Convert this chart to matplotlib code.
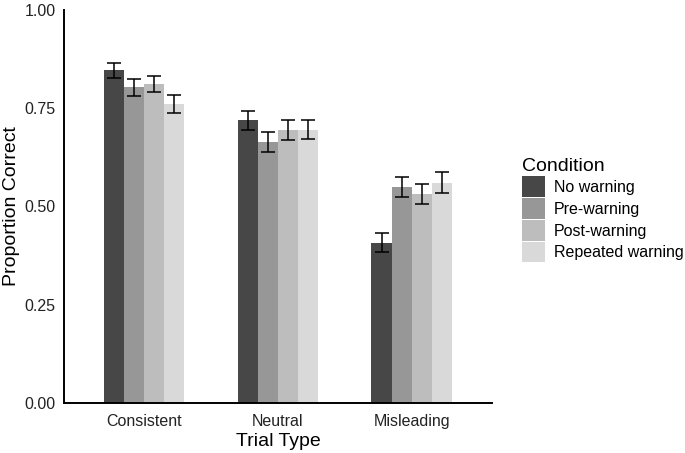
import numpy as np
import matplotlib
matplotlib.use('Agg')
import matplotlib.pyplot as plt
from matplotlib.patches import Patch

plt.rcParams['font.family'] = ['Liberation Sans', 'DejaVu Sans']

# データ
trial_types = ['Consistent', 'Neutral', 'Misleading']
conditions = ['No warning', 'Pre-warning', 'Post-warning', 'Repeated warning']
colors = ['#474747', '#979797', '#bdbdbd', '#d9d9d9']

# 各条件の平均 (Consistent, Neutral, Misleading)
means = {
    'No warning':       [0.846, 0.719, 0.408],
    'Pre-warning':      [0.803, 0.664, 0.549],
    'Post-warning':     [0.812, 0.695, 0.532],
    'Repeated warning': [0.761, 0.695, 0.561],
}
# 標準誤差
errors = {
    'No warning':       [0.019, 0.024, 0.025],
    'Pre-warning':      [0.021, 0.025, 0.026],
    'Post-warning':     [0.021, 0.025, 0.026],
    'Repeated warning': [0.022, 0.024, 0.026],
}

fig = plt.figure(figsize=(6.85, 4.53), dpi=100)
ax = fig.add_axes([0.0934, 0.1104, 0.6246, 0.8676])

x = np.arange(1, len(trial_types) + 1)
width = 0.15

for i, cond in enumerate(conditions):
    pos = x + (i - 1.5) * width
    ax.bar(pos, means[cond], width=width, color=colors[i], edgecolor='none', label=cond)
    ax.errorbar(pos, means[cond], yerr=errors[cond], fmt='none', ecolor='black',
                elinewidth=1.1, capsize=5, capthick=1.1)

ax.set_xlim(0.4, 3.6)
ax.set_ylim(0, 1)
ax.set_xticks(x)
ax.set_xticklabels(trial_types)
ax.set_yticks([0, 0.25, 0.5, 0.75, 1.0])
ax.set_yticklabels(['0.00', '0.25', '0.50', '0.75', '1.00'])
ax.tick_params(axis='y', length=0, labelsize=11.5, pad=6)
ax.tick_params(axis='x', length=0, labelsize=11.5, pad=8)
for lbl in ax.get_xticklabels() + ax.get_yticklabels():
    lbl.set_color('#222222')

for s in ['top', 'right']:
    ax.spines[s].set_visible(False)
for s in ['left', 'bottom']:
    ax.spines[s].set_linewidth(1.4)
    ax.spines[s].set_color('black')

ax.set_xlabel('Trial Type', fontsize=14, labelpad=3)
ax.set_ylabel('Proportion Correct', fontsize=14, labelpad=3)

handles = [Patch(facecolor=c, edgecolor='none') for c in colors]
leg = fig.legend(handles, conditions, title='Condition', loc='upper left',
                 bbox_to_anchor=(0.753, 0.665), frameon=False, fontsize=11.5,
                 title_fontsize=14, handlelength=1.4, handleheight=1.6,
                 handletextpad=0.6, labelspacing=0.08, borderaxespad=0)
leg._legend_box.align = 'left'

fig.savefig('out.png', dpi=100)
